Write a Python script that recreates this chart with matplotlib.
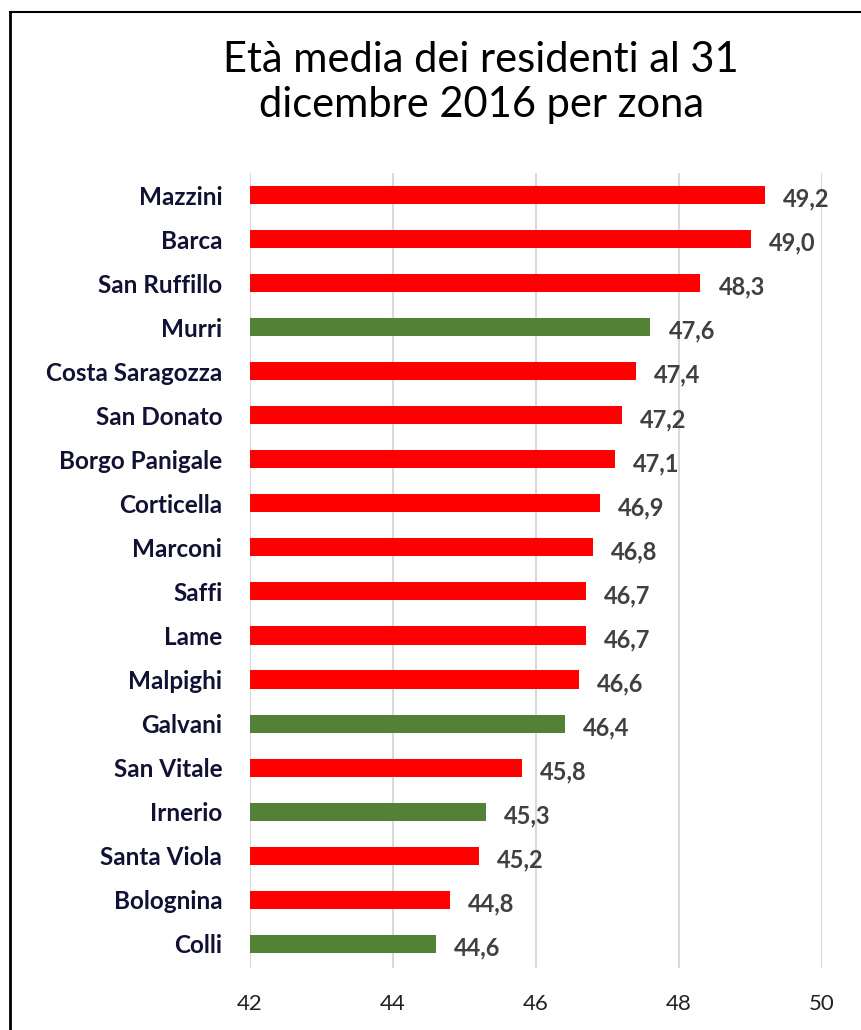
import matplotlib.pyplot as plt
from matplotlib.lines import Line2D

# età media per zona, 31/12/2016
zone = ['Mazzini', 'Barca', 'San Ruffillo', 'Murri', 'Costa Saragozza',
        'San Donato', 'Borgo Panigale', 'Corticella', 'Marconi', 'Saffi',
        'Lame', 'Malpighi', 'Galvani', 'San Vitale', 'Irnerio',
        'Santa Viola', 'Bolognina', 'Colli']
eta_media = [49.2, 49.0, 48.3, 47.6, 47.4, 47.2, 47.1, 46.9, 46.8, 46.7,
             46.7, 46.6, 46.4, 45.8, 45.3, 45.2, 44.8, 44.6]
zone_verdi = ['Murri', 'Galvani', 'Irnerio', 'Colli']
x_ticks = [42, 44, 46, 48, 50]

ROSSO = '#FF0000'
VERDE = '#538135'
plt.rcParams['font.family'] = ['Lato', 'DejaVu Sans']

fig = plt.figure(figsize=(8.61, 10.3), dpi=100)
ax = fig.add_axes([0.2904, 0.0602, 0.6643, 0.7718])

pos = list(range(len(zone)))[::-1]
colori = [VERDE if z in zone_verdi else ROSSO for z in zone]
ax.barh(pos, [v - 42 for v in eta_media], left=42, height=0.41,
        color=colori, zorder=3)

for p, v in zip(pos, eta_media):
    ax.annotate(f'{v:.1f}'.replace('.', ','), (v, p), xytext=(13, -3),
                textcoords='offset points', va='center', ha='left',
                fontsize=17, fontweight='bold', color='#404040')

ax.set_xlim(42, 50)
ax.set_ylim(-0.55, len(zone) - 0.5)
ax.set_xticks(x_ticks)
ax.set_xticklabels([str(t) for t in x_ticks], fontsize=16, color='#222222')
ax.set_yticks(pos)
ax.set_yticklabels(zone, fontsize=17.5, fontweight='bold', color='#111133')
ax.tick_params(length=0)
ax.tick_params(axis='x', pad=19)
ax.tick_params(axis='y', pad=20)
ax.grid(axis='x', color='#d9d9d9', linewidth=1.5, zorder=0)
for s in ['top', 'right', 'bottom', 'left']:
    ax.spines[s].set_visible(False)

fig.text(0.559, 0.92, 'Età media dei residenti al 31\ndicembre 2016 per zona',
         ha='center', va='center', fontsize=30, linespacing=1.25)

# cornice del grafico (tagliata a destra e in basso)
x0 = 10 / 861
y0 = 1 - 12 / 1030
fig.add_artist(Line2D([x0, x0], [0, y0], color='black', linewidth=2,
                      transform=fig.transFigure))
fig.add_artist(Line2D([x0, 1], [y0, y0], color='black', linewidth=1.5,
                      transform=fig.transFigure))

fig.savefig('out.png', dpi=100)
